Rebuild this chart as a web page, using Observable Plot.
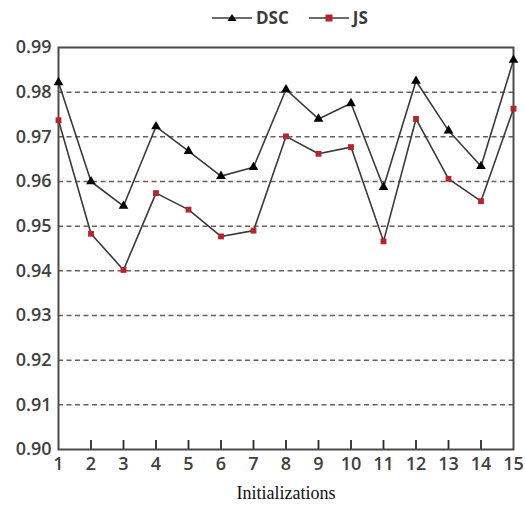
<!DOCTYPE html>
<html>
<head>
<meta charset="utf-8">
<script src="https://cdn.jsdelivr.net/npm/d3@7"></script>
<script src="https://cdn.jsdelivr.net/npm/@observablehq/plot@0.6"></script>
<style>
  html, body { margin: 0; padding: 0; background: #fff; }
  #wrap { position: relative; width: 525px; height: 505px; }
  #legend { position: absolute; top: 6px; left: 212px; display: flex; align-items: center;
            font-family: "Open Sans", sans-serif; font-weight: 700; font-size: 17px; color: #3a3a3a; }
  #legend .item { display: flex; align-items: center; margin-right: 20px; }
  #legend svg { margin-right: 4px; }
  g[aria-label="x-axis label"] text { font-family: "Liberation Serif", "DejaVu Serif", serif; font-size: 18px; font-weight: 400; fill: #111; }
</style>
</head>
<body>
<div id="wrap">
  <div id="legend"></div>
</div>
<script>
const inits = [1,2,3,4,5,6,7,8,9,10,11,12,13,14,15];
const dsc = [0.9822,0.9600,0.9545,0.9723,0.9668,0.9612,0.9632,0.9806,0.9740,0.9775,0.9587,0.9825,0.9714,0.9634,0.9872];
const js  = [0.9737,0.9483,0.9402,0.9574,0.9537,0.9477,0.9490,0.9701,0.9662,0.9677,0.9466,0.9740,0.9606,0.9556,0.9763];
const yTicks = [0.90,0.91,0.92,0.93,0.94,0.95,0.96,0.97,0.98,0.99];
const gridLines = [0.91,0.92,0.93,0.94,0.95,0.96,0.97,0.98];
const innerTicks = [2,3,4,5,6,7,8,9,10,11,12,13,14];
const seriesNames = ["DSC", "JS"];

const dscData = inits.map((x, i) => ({x, y: dsc[i]}));
const jsData = inits.map((x, i) => ({x, y: js[i]}));

const lineColor = "#3a3a3a";
const red = "#b3262b";

const chart = Plot.plot({
  width: 525,
  height: 505,
  marginTop: 47,
  marginBottom: 56,
  marginLeft: 58,
  marginRight: 12,
  style: {fontFamily: "'Open Sans', sans-serif", fontSize: "18px", fontWeight: 600, color: "#3f3f3f", background: "transparent"},
  x: {domain: [1, 15]},
  y: {domain: [0.90, 0.99]},
  marks: [
    Plot.ruleY(gridLines, {stroke: "#6e5c5c", strokeWidth: 1.5, strokeDasharray: "5,3.5"}),
    Plot.axisY({ticks: yTicks, tickFormat: d3.format(".2f"), tickSize: 0, tickPadding: 7, label: null}),
    Plot.axisX({ticks: inits, tickFormat: d => String(d), tickSize: 0, tickPadding: 8, label: "Initializations", labelAnchor: "center", labelArrow: "none", labelOffset: 49}),
    Plot.tickX(innerTicks, {x: d => d, insetTop: 393, stroke: "#2a2a2a", strokeWidth: 1.8}),
    Plot.frame({stroke: "#4a4a4a", strokeWidth: 2}),
    Plot.line(dscData, {x: "x", y: "y", stroke: lineColor, strokeWidth: 1.6}),
    Plot.line(jsData, {x: "x", y: "y", stroke: lineColor, strokeWidth: 1.6}),
    Plot.dot(dscData, {x: "x", y: "y", symbol: "triangle", r: 3.6, fill: "#000"}),
    Plot.dot(jsData, {x: "x", y: "y", symbol: "square", r: 3.3, fill: red})
  ]
});
document.getElementById("wrap").appendChild(chart);

const legend = document.getElementById("legend");
seriesNames.forEach((name, i) => {
  const item = document.createElement("div");
  item.className = "item";
  const marker = i === 0
    ? '<path d="M20,3 L24.5,10 L15.5,10 Z" fill="#000"/>'
    : '<rect x="16.5" y="3.5" width="7" height="7" fill="' + red + '"/>';
  item.innerHTML = '<svg width="40" height="14"><line x1="0" y1="7" x2="40" y2="7" stroke="' + lineColor + '" stroke-width="1.6"/>' + marker + '</svg><span>' + name + '</span>';
  legend.appendChild(item);
});
</script>
</body>
</html>
